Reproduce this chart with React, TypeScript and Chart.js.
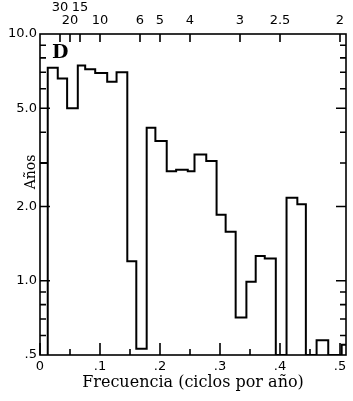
import { useEffect, useRef } from "react";
import { Chart, registerables } from "chart.js";

Chart.register(...registerables);

// Frequency bin edges (ciclos por año) and the value (años) held in each bin
const binEdges = [
  0, 0.0129, 0.0129, 0.0296, 0.0452, 0.063, 0.0753, 0.092, 0.112, 0.1276,
  0.1455, 0.1605, 0.1778, 0.1923, 0.2112, 0.2269, 0.2463, 0.2575, 0.2771,
  0.2943, 0.3094, 0.3261, 0.344, 0.3595, 0.3746, 0.393, 0.4109, 0.4289,
  0.4431, 0.461, 0.4804, 0.5028, 0.51,
];
const binValues = [
  3.0, 0.5, 7.3, 6.6, 5.0, 7.45, 7.2, 6.95, 6.4, 7.0, 1.2, 0.53, 4.17, 3.68,
  2.78, 2.82, 2.78, 3.25, 3.06, 1.85, 1.58, 0.71, 0.99, 1.26, 1.23, 0.5, 2.17,
  2.04, 0.5, 0.574, 0.5, 0.55,
];

const xMin = 0;
const xMax = 0.51;
const yMin = 0.5;
const yMax = 10;

const xTickValues = [0, 0.1, 0.2, 0.3, 0.4, 0.5];
const xTickLabels = ["0", ".1", ".2", ".3", ".4", ".5"];
const xMinorMarks = [0.05, 0.15, 0.25, 0.35, 0.45];

const yTickValues = [0.5, 1, 2, 5, 10];
const yTickLabels = [".5", "1.0", "2.0", "5.0", "10.0"];
const yMajorMarks = [1, 2, 5];
const yMinorMarks = [0.6, 0.7, 0.8, 0.9, 3, 4, 6, 7, 8, 9];

const topPeriods = [30, 20, 15, 10, 6, 5, 4, 3, 2.5, 2];
const topLabels = ["30", "20", "15", "10", "6", "5", "4", "3", "2.5", "2"];
const topUpperRow = [true, false, true, false, false, false, false, false, false, false];

const xTitle = "Frecuencia (ciclos por año)";
const yTitle = "Años";
const panelLabel = "D";

const framePlugin = {
  id: "framePlugin",
  afterDatasetsDraw(chart: any) {
    const { ctx, chartArea: a, scales } = chart;
    const xs = scales.x;
    const ys = scales.y;
    ctx.save();
    ctx.strokeStyle = "#000";
    ctx.lineWidth = 1.6;
    ctx.strokeRect(a.left, a.top, a.right - a.left, a.bottom - a.top);
    ctx.beginPath();
    for (const v of yMajorMarks) {
      const py = ys.getPixelForValue(v);
      ctx.moveTo(a.left, py);
      ctx.lineTo(a.left + 10, py);
      ctx.moveTo(a.right, py);
      ctx.lineTo(a.right - 10, py);
    }
    for (const v of yMinorMarks) {
      const py = ys.getPixelForValue(v);
      ctx.moveTo(a.left, py);
      ctx.lineTo(a.left + 6, py);
      ctx.moveTo(a.right, py);
      ctx.lineTo(a.right - 6, py);
    }
    for (const v of xTickValues) {
      const px = xs.getPixelForValue(v);
      ctx.moveTo(px, a.bottom);
      ctx.lineTo(px, a.bottom - 12);
    }
    for (const v of xMinorMarks) {
      const px = xs.getPixelForValue(v);
      ctx.moveTo(px, a.bottom);
      ctx.lineTo(px, a.bottom - 6);
    }
    for (const p of topPeriods) {
      const px = xs.getPixelForValue(1 / p);
      ctx.moveTo(px, a.top);
      ctx.lineTo(px, a.top + 8);
    }
    ctx.stroke();

    ctx.fillStyle = "#000";
    ctx.font = 'bold 19px "DejaVu Serif"';
    ctx.textAlign = "left";
    ctx.textBaseline = "alphabetic";
    ctx.fillText(panelLabel, a.left + 12, a.top + 24);

    ctx.font = '14px "DejaVu Serif"';
    ctx.translate(a.left - 9, a.top + 138);
    ctx.rotate(-Math.PI / 2);
    ctx.textAlign = "center";
    ctx.textBaseline = "middle";
    ctx.fillText(yTitle, 0, 0);
    ctx.restore();
  },
};

export default function App() {
  const ref = useRef<HTMLCanvasElement>(null);

  useEffect(() => {
    const points = binValues.map((v, i) => ({ x: binEdges[i], y: v }));
    points.push({ x: binEdges[binEdges.length - 1], y: binValues[binValues.length - 1] });

    const tickFont = { family: "DejaVu Sans", size: 13, lineHeight: 1 };

    const chart = new Chart(ref.current as HTMLCanvasElement, {
      type: "line",
      data: {
        datasets: [
          {
            data: points,
            stepped: true,
            borderColor: "#000",
            borderWidth: 2,
            pointRadius: 0,
            fill: false,
            xAxisID: "x",
            yAxisID: "y",
          },
        ],
      },
      options: {
        animation: false,
        responsive: false,
        layout: { padding: { left: 0, right: 7, top: 0, bottom: 0 } },
        plugins: {
          legend: { display: false },
          tooltip: { enabled: false },
        },
        scales: {
          x: {
            type: "linear",
            position: "bottom",
            min: xMin,
            max: xMax,
            grid: { display: false, drawTicks: false },
            border: { display: false },
            afterBuildTicks: (s: any) => {
              s.ticks = xTickValues.map((v) => ({ value: v }));
            },
            afterFit: (s: any) => {
              s.height = 46;
            },
            ticks: {
              autoSkip: false,
              maxRotation: 0,
              padding: 5,
              color: "#000",
              font: tickFont,
              callback: (_v: any, i: number) => xTickLabels[i],
            },
            title: {
              display: true,
              text: xTitle,
              color: "#000",
              font: { family: "DejaVu Serif", size: 16, lineHeight: 1.2 },
              padding: { top: 0, bottom: 9 },
            },
          },
          x2: {
            type: "linear",
            position: "top",
            min: xMin,
            max: xMax,
            grid: { display: false, drawTicks: false },
            border: { display: false },
            afterBuildTicks: (s: any) => {
              s.ticks = topPeriods.map((p) => ({ value: 1 / p }));
            },
            afterFit: (s: any) => {
              s.height = 34;
            },
            ticks: {
              autoSkip: false,
              maxRotation: 0,
              padding: 7,
              color: "#000",
              font: tickFont,
              callback: (_v: any, i: number) =>
                topUpperRow[i] ? [topLabels[i], ""] : topLabels[i],
            },
          },
          y: {
            type: "logarithmic",
            position: "left",
            min: yMin,
            max: yMax,
            grid: { display: false, drawTicks: false },
            border: { display: false },
            afterBuildTicks: (s: any) => {
              s.ticks = yTickValues.map((v) => ({ value: v }));
            },
            afterFit: (s: any) => {
              s.width = 40;
            },
            ticks: {
              autoSkip: false,
              padding: 3,
              color: "#000",
              font: tickFont,
              callback: (_v: any, i: number) => yTickLabels[i],
            },
          },
        },
      },
      plugins: [framePlugin],
    });

    return () => chart.destroy();
  }, []);

  return (
    <div style={{ position: "fixed", left: 0, top: 0, width: 353, height: 401, background: "#fff" }}>
      <canvas ref={ref} width={353} height={401} style={{ display: "block" }} />
    </div>
  );
}
